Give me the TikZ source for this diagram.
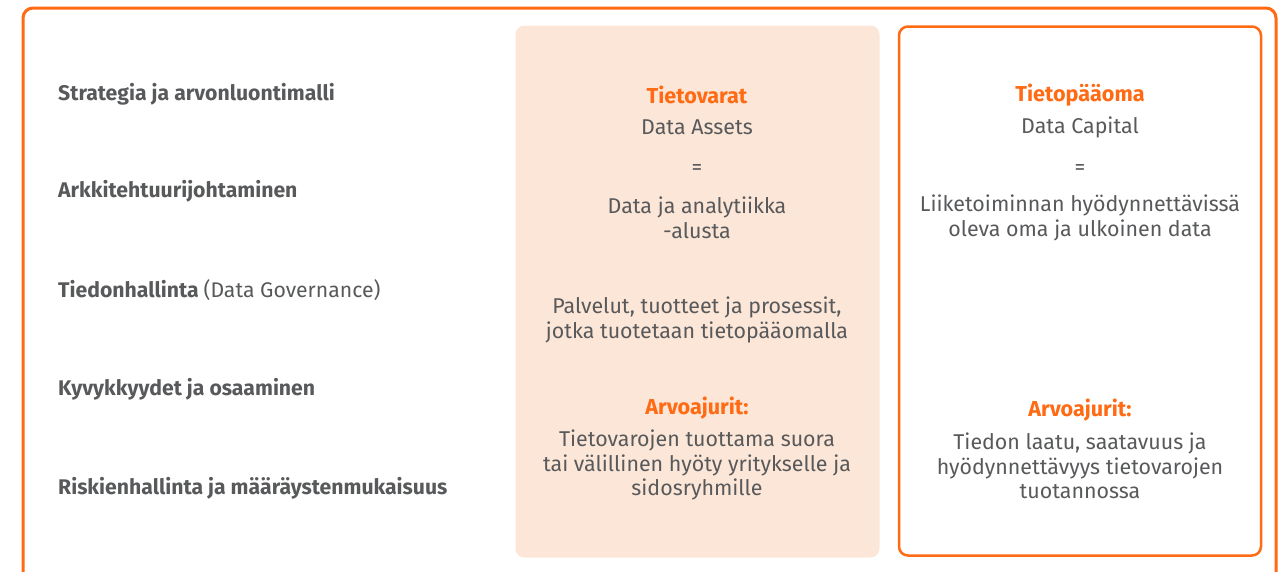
\documentclass[tikz,border=0pt]{standalone}
\usepackage{fontspec}
\setmainfont{Fira Sans}
\usetikzlibrary{positioning}
\definecolor{brandorange}{HTML}{FF6A13}
\definecolor{peach}{HTML}{FCE6D7}
\definecolor{textgray}{HTML}{58595B}

\begin{document}
\begin{tikzpicture}[x=1pt, y=-1pt, font=\fontsize{21.4}{24.5}\selectfont,
    every node/.style={align=center, text=textgray, inner sep=0pt},
    head/.style={text=brandorange, font=\fontsize{21.6}{24.5}\selectfont\bfseries},
    rowlabel/.style={anchor=west, font=\fontsize{21.2}{24}\selectfont\bfseries},
    panel/.style={rounded corners=9pt, minimum width=364pt, minimum height=532pt}]
    \useasboundingbox (0,0) rectangle (1283,571);
    \draw[brandorange, line width=3pt, rounded corners=10pt] (23,8) rectangle (1276,610);

    % columns
    \node[panel, fill=peach] (assets) at (697.5,291.5) {};
    \node[panel, draw=brandorange, line width=2.5pt, minimum width=362pt, minimum height=529pt] (capital) at (1080,291) {};

    % left labels
    \node[rowlabel] (l1) at (58,94) {Strategia ja arvonluontimalli};
    \node[rowlabel] (l2) at (58,191) {Arkkitehtuurijohtaminen};
    \node[rowlabel] (l3) at (58,290) {Tiedonhallinta {\mdseries(Data Governance)}};
    \node[rowlabel] (l4) at (58,389) {Kyvykkyydet ja osaaminen};
    \node[rowlabel] (l5) at (58,488) {Riskienhallinta ja määräystenmukaisuus};

    % Tietovarat
    \node[head] (a1) at (697,95) {Tietovarat};
    \node (a2) at (697,127) {Data Assets};
    \node (a3) at (697,170) {=};
    \node (a4) at (697,218) {Data ja analytiikka\\-alusta};
    \node (a5) at (697,320) {Palvelut, tuotteet ja prosessit,\\jotka tuotetaan tietopääomalla};
    \node[head] (a6) at (697,408) {Arvoajurit:};
    \node (a7) at (697,465) {Tietovarojen tuottama suora\\tai välillinen hyöty yritykselle ja\\sidosryhmille};

    % Tietopääoma
    \node[head] (c1) at (1080,95) {Tietopääoma};
    \node (c2) at (1080,127) {Data Capital};
    \node (c3) at (1080,170) {=};
    \node (c4) at (1080,218) {Liiketoiminnan hyödynnettävissä\\oleva oma ja ulkoinen data};
    \node[head] (c6) at (1080,410) {Arvoajurit:};
    \node (c7) at (1080,466) {Tiedon laatu, saatavuus ja\\hyödynnettävyys tietovarojen\\tuotannossa};
\end{tikzpicture}
\end{document}
